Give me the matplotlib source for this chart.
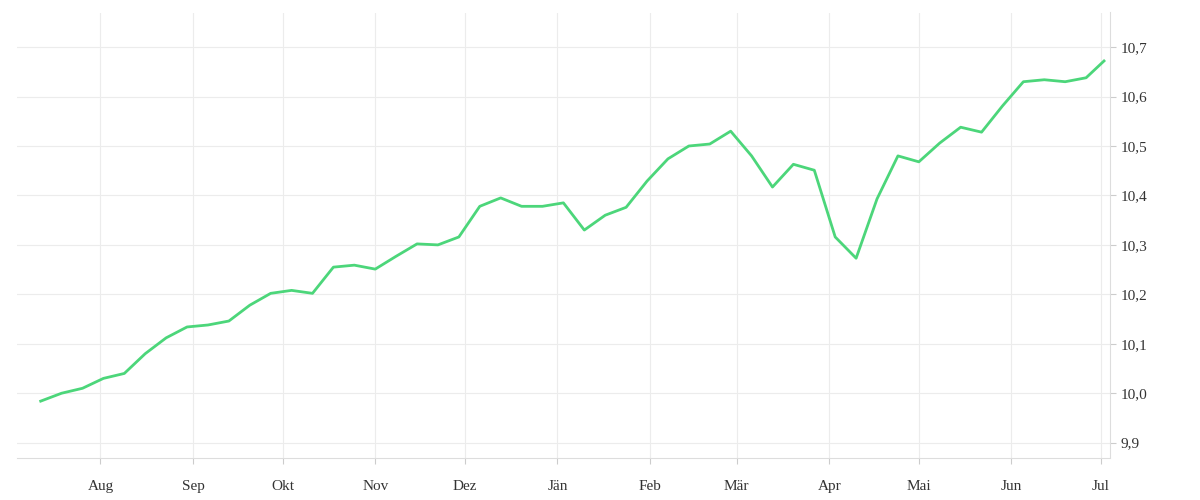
import matplotlib
matplotlib.use("Agg")
import matplotlib.pyplot as plt
import matplotlib.ticker as mticker
import pandas as pd

# weekly values
values = [9.984, 10.0, 10.01, 10.03, 10.04, 10.08, 10.112, 10.134, 10.138, 10.146,
          10.178, 10.202, 10.208, 10.202, 10.255, 10.259, 10.251, 10.277, 10.302, 10.300,
          10.316, 10.378, 10.395, 10.378, 10.378, 10.385, 10.33, 10.36, 10.376, 10.429,
          10.474, 10.5, 10.504, 10.53, 10.48, 10.417, 10.463, 10.451, 10.316, 10.273,
          10.393, 10.48, 10.468, 10.506, 10.538, 10.528, 10.581, 10.63, 10.634, 10.63,
          10.638, 10.672]
dates = pd.date_range("2023-07-12", periods=len(values), freq="7D")
dates = list(dates[:-1]) + [dates[-2] + pd.Timedelta(days=6)]

month_ticks = pd.date_range("2023-08-01", "2024-07-01", freq="MS")
month_labels = ["Aug", "Sep", "Okt", "Nov", "Dez", "Jän", "Feb", "Mär", "Apr", "Mai", "Jun", "Jul"]
y_ticks = [9.9, 10.0, 10.1, 10.2, 10.3, 10.4, 10.5, 10.6, 10.7]

fig, ax = plt.subplots(figsize=(12, 5), dpi=100)
fig.subplots_adjust(left=0.014, right=0.925, top=0.975, bottom=0.085)

ax.plot(dates, values, color="#4cd67a", lw=2.0)

ax.set_xlim(pd.Timestamp("2023-07-04"), pd.Timestamp("2024-07-04"))
ax.set_ylim(9.87, 10.77)
ax.set_xticks(month_ticks)
ax.set_xticklabels(month_labels)
ax.set_yticks(y_ticks)
ax.yaxis.set_major_formatter(mticker.FuncFormatter(lambda v, p: f"{v:.1f}".replace(".", ",")))
ax.yaxis.tick_right()

ax.grid(True, color="#ececec", lw=0.8)
for s in ["top", "left"]:
    ax.spines[s].set_visible(False)
ax.spines["bottom"].set_color("#dddddd")
ax.spines["right"].set_color("#dddddd")
ax.tick_params(length=4, color="#cccccc", labelsize=10, labelcolor="#333333")
ax.tick_params(axis="x", pad=12)
for lab in ax.get_xticklabels() + ax.get_yticklabels():
    lab.set_family("Liberation Serif")
    lab.set_fontsize(11)

plt.savefig("out.png")
